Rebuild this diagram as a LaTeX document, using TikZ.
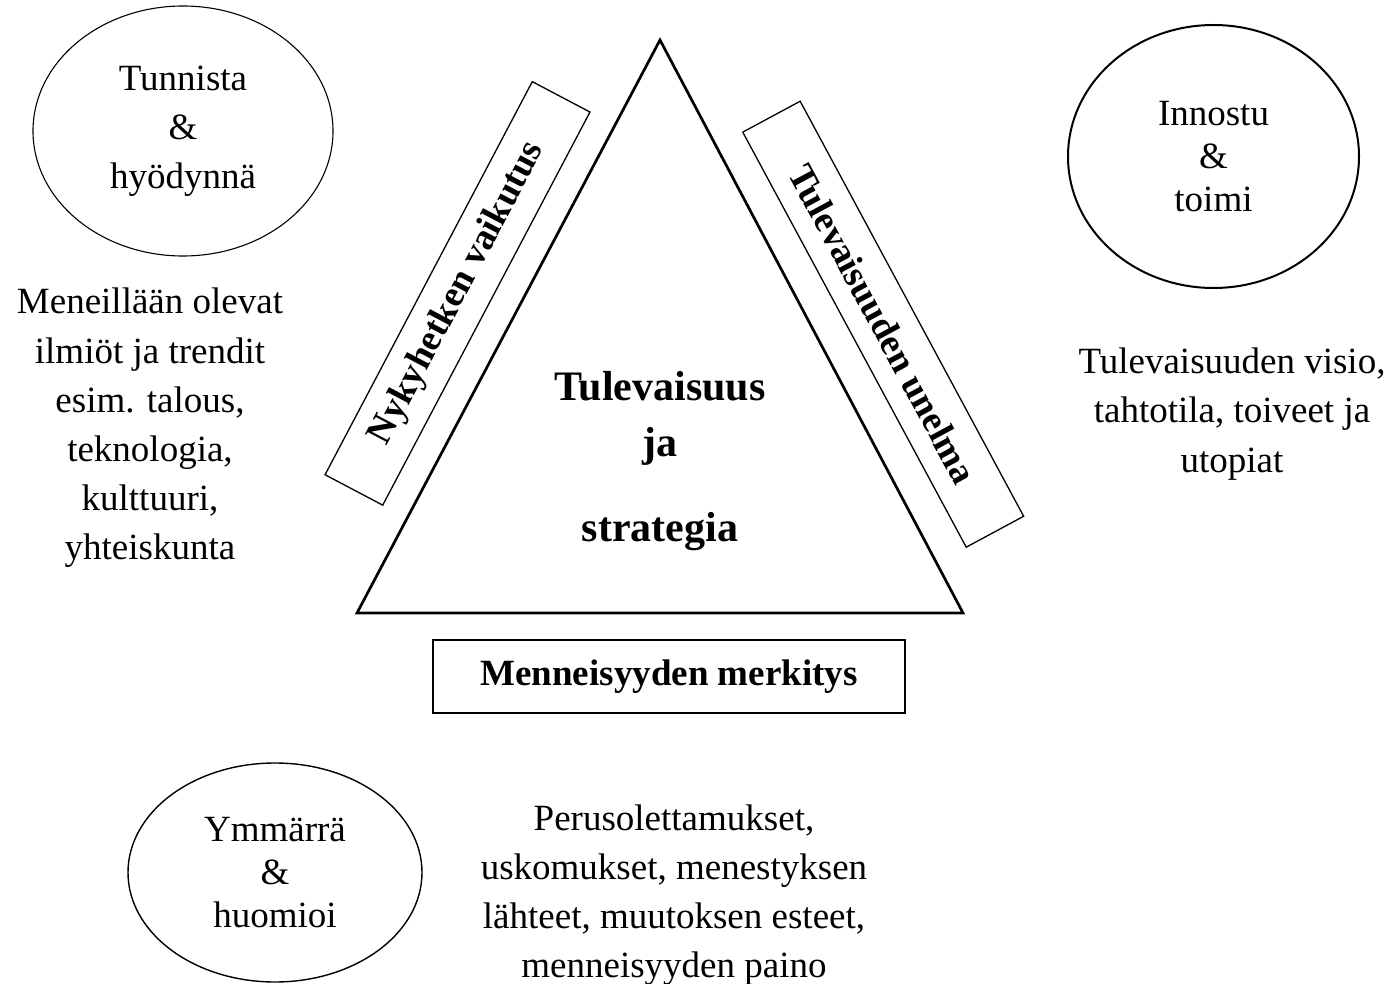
\documentclass[tikz,border=0pt]{standalone}
\usepackage{fontspec}
\setmainfont{Liberation Serif}
\usetikzlibrary{shapes.geometric}

\begin{document}
\begin{tikzpicture}[x=0.5pt,y=-0.5pt]
\tikzset{TextStyle/.style={align=center, inner sep=0pt, font=\fontsize{18.5}{24.6}\selectfont}}
\tikzset{EllipseStyle/.style={TextStyle, draw, ellipse}}
\tikzset{BoxStyle/.style={draw, line width=0.65pt, inner sep=0pt, minimum height=32.6pt, font=\bfseries\fontsize{18.5}{24.5}\selectfont}}
\useasboundingbox (0,0) rectangle (1388,984);
\coordinate (top) at (660,40);
\coordinate (left) at (357,613);
\coordinate (right) at (963,613);
\draw[line width=1.35pt] (top) -- (left) -- (right) -- cycle;
\node[align=center, inner sep=0pt, font=\bfseries\fontsize{21}{28}\selectfont] (core) at (660,461) {Tulevaisuus\\ja\\[14.5pt]strategia};
\node[BoxStyle, rotate=62.2, minimum width=222.2pt] (nyt) at (457.5,293.4) {Nykyhetken vaikutus};
\node[BoxStyle, rotate=-61.7, minimum width=235.7pt] (unelma) at (883.2,324.2) {Tulevaisuuden unelma};
\node[BoxStyle, minimum width=236pt, minimum height=36.5pt] (mennyt) at (669,676.5) {Menneisyyden merkitys};
\node[EllipseStyle, line width=0.55pt, minimum width=150pt, minimum height=125pt] (tunnista) at (183,131) {Tunnista\\\&\\hyödynnä};
\node[EllipseStyle, line width=1pt, minimum width=145.5pt, minimum height=131.5pt, font=\fontsize{18.5}{21.5}\selectfont] (innostu) at (1213.5,156.5) {Innostu\\\&\\toimi};
\node[EllipseStyle, line width=0.7pt, minimum width=147pt, minimum height=109.5pt, font=\fontsize{18.5}{21.5}\selectfont] (ymmarra) at (275,872.5) {Ymmärrä\\\&\\huomioi};
\node[TextStyle] (nykyhetki) at (150,428) {Meneillään olevat\\ilmiöt ja trendit\\esim. talous,\\teknologia,\\kulttuuri,\\yhteiskunta};
\node[TextStyle] (visio) at (1232,414) {Tulevaisuuden visio,\\tahtotila, toiveet ja\\utopiat};
\node[TextStyle] (menneisyys) at (674,895) {Perusolettamukset,\\uskomukset, menestyksen\\lähteet, muutoksen esteet,\\menneisyyden paino};
\end{tikzpicture}
\end{document}
